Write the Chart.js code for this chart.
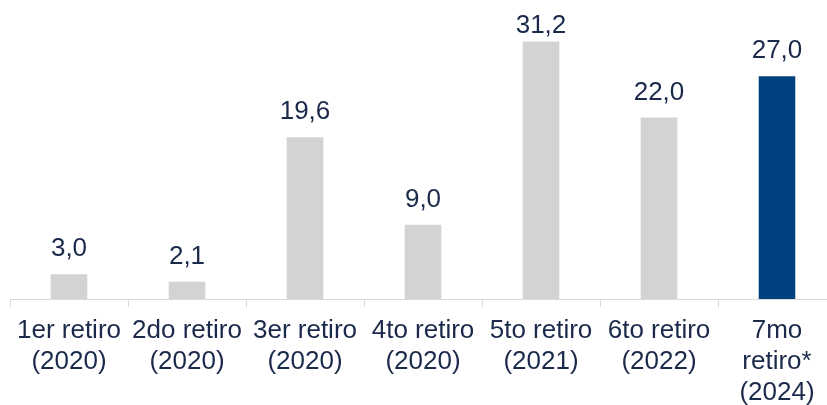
<!DOCTYPE html>
<html>
<head>
<meta charset="utf-8">
<script src="https://cdn.jsdelivr.net/npm/chart.js@4/dist/chart.umd.min.js"></script>
<style>
  html, body { margin: 0; padding: 0; background: #fff; overflow: hidden; }
  #wrap { width: 840px; height: 405px; }
</style>
</head>
<body>
<div id="wrap"><canvas id="chart" width="840" height="405"></canvas></div>
<script>
// withdrawals (retiros) per round
var categories = [
    ['1er retiro', '(2020)'],
    ['2do retiro', '(2020)'],
    ['3er retiro', '(2020)'],
    ['4to retiro', '(2020)'],
    ['5to retiro', '(2021)'],
    ['6to retiro', '(2022)'],
    ['7mo', 'retiro*', '(2024)']
];
var values = [3.0, 2.1, 19.6, 9.0, 31.2, 22.0, 27.0];
var barColors = ['#d3d3d3', '#d3d3d3', '#d3d3d3', '#d3d3d3', '#d3d3d3', '#d3d3d3', '#00427f'];

var textColor = '#1b2a4a';
var fontFamily = '"Liberation Sans", Arial, sans-serif';

// value above each bar, comma as decimal separator
// (kept from running off the top edge on the tallest bar)
var valueLabels = {
    id: 'valueLabels',
    afterDatasetsDraw: function(chart) {
        var ctx = chart.ctx;
        var meta = chart.getDatasetMeta(0);
        ctx.save();
        ctx.font = '26px ' + fontFamily;
        ctx.fillStyle = textColor;
        ctx.textAlign = 'center';
        ctx.textBaseline = 'alphabetic';
        meta.data.forEach(function(bar, i) {
            var txt = values[i].toFixed(1).replace('.', ',');
            var y = Math.max(bar.y - 18, 33);
            ctx.fillText(txt, bar.x, y);
        });
        ctx.restore();
    }
};

var ctx = document.getElementById('chart').getContext('2d');
var chart = new Chart(ctx, {
    type: 'bar',
    data: {
        labels: categories,
        datasets: [{
            data: values,
            backgroundColor: barColors,
            barPercentage: 0.31,
            categoryPercentage: 1.0
        }]
    },
    options: {
        responsive: false,
        animation: false,
        layout: { padding: { left: 10, right: 4, top: 2, bottom: 0 } },
        plugins: {
            legend: { display: false },
            tooltip: { enabled: false }
        },
        scales: {
            x: {
                offset: true,
                grid: {
                    offset: true,
                    drawOnChartArea: false,
                    drawTicks: true,
                    tickLength: 8,
                    color: '#d9d9d9'
                },
                border: { display: true, color: '#d9d9d9', width: 1 },
                ticks: {
                    color: textColor,
                    padding: 8,
                    maxRotation: 0,
                    autoSkip: false,
                    font: { family: fontFamily, size: 26, lineHeight: 1.2 }
                },
                afterFit: function(scale) { scale.height = 106; }
            },
            y: {
                display: false,
                min: 0,
                max: 36
            }
        }
    },
    plugins: [valueLabels]
});
</script>
</body>
</html>
